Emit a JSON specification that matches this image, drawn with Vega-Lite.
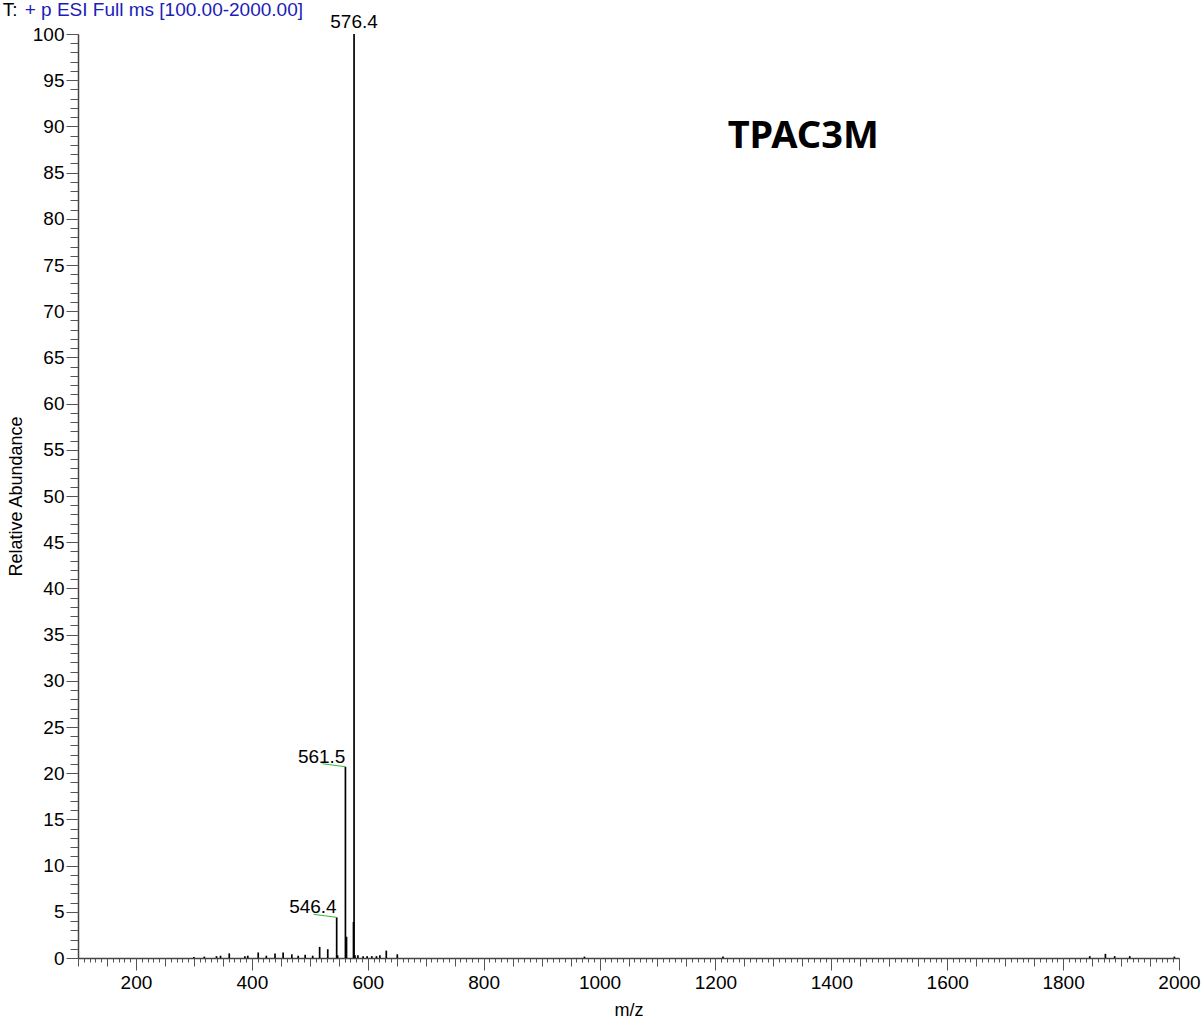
{
  "$schema": "https://vega.github.io/schema/vega-lite/v6.json",
  "width": 1101,
  "height": 924,
  "autosize": {"type": "none"},
  "padding": {"left": 78, "top": 34, "right": 25, "bottom": 63},
  "background": "white",
  "config": {
    "view": {"stroke": null},
    "font": "Liberation Sans",
    "axis": {"grid": false, "labelFont": "Liberation Sans", "titleFont": "Liberation Sans", "labelColor": "black", "titleColor": "black", "titleFontWeight": "normal", "labelFlush": false, "labelOverlap": false, "tickColor": "#555555", "domainColor": "#444444"}
  },
  "datasets": {
    "peaks": [
      {"mz": 300, "intensity": 0.1},
      {"mz": 318, "intensity": 0.15},
      {"mz": 339, "intensity": 0.2},
      {"mz": 346, "intensity": 0.25},
      {"mz": 361, "intensity": 0.5},
      {"mz": 388, "intensity": 0.2},
      {"mz": 393, "intensity": 0.25},
      {"mz": 411, "intensity": 0.6},
      {"mz": 425, "intensity": 0.25},
      {"mz": 440, "intensity": 0.5},
      {"mz": 454, "intensity": 0.6},
      {"mz": 469, "intensity": 0.4},
      {"mz": 480, "intensity": 0.25},
      {"mz": 492, "intensity": 0.35},
      {"mz": 505, "intensity": 0.25},
      {"mz": 517, "intensity": 1.2},
      {"mz": 531, "intensity": 0.95},
      {"mz": 546.4, "intensity": 4.4},
      {"mz": 548, "intensity": 0.3},
      {"mz": 561.5, "intensity": 20.7},
      {"mz": 563.4, "intensity": 2.3},
      {"mz": 575.4, "intensity": 3.9},
      {"mz": 576.4, "intensity": 100},
      {"mz": 578, "intensity": 0.3},
      {"mz": 583, "intensity": 0.3},
      {"mz": 592, "intensity": 0.2},
      {"mz": 599, "intensity": 0.2},
      {"mz": 607, "intensity": 0.2},
      {"mz": 615, "intensity": 0.2},
      {"mz": 621, "intensity": 0.3},
      {"mz": 632, "intensity": 0.8},
      {"mz": 651, "intensity": 0.4},
      {"mz": 974, "intensity": 0.15},
      {"mz": 1213, "intensity": 0.15},
      {"mz": 1846, "intensity": 0.2},
      {"mz": 1873, "intensity": 0.45},
      {"mz": 1889, "intensity": 0.2},
      {"mz": 1915, "intensity": 0.2},
      {"mz": 1992, "intensity": 0.15}
    ],
    "labels": [
      {"mz": 576.4, "intensity": 100, "label": "576.4", "side": "top"},
      {"mz": 561.5, "intensity": 20.7, "label": "561.5", "side": "left"},
      {"mz": 546.4, "intensity": 4.4, "label": "546.4", "side": "left"}
    ],
    "notes": [
      {"label": "TPAC3M"}
    ]
  },
  "layer": [
    {
      "data": {"name": "peaks"},
      "mark": {"type": "rule", "color": "black", "strokeWidth": 1.7},
      "encoding": {
        "x": {"field": "mz", "type": "quantitative", "scale": {"domain": [100, 2000], "nice": false, "zero": false},
          "axis": {"orient": "bottom", "tickCount": 190, "labels": false, "title": null, "tickSize": 4, "tickWidth": 1, "domainWidth": 1.5}},
        "y": {"field": "intensity", "type": "quantitative", "scale": {"domain": [0, 100], "nice": false},
          "axis": {"orient": "left", "tickCount": 100, "labels": false, "title": null, "tickSize": 8, "tickWidth": 1, "domainWidth": 1.5}},
        "y2": {"datum": 0}
      }
    },
    {
      "data": {"name": "labels"},
      "transform": [{"filter": "datum.side == 'top'"}],
      "mark": {"type": "text", "align": "center", "baseline": "alphabetic", "dy": -6, "fontSize": 19, "color": "black", "font": "Liberation Sans"},
      "encoding": {
        "x": {"field": "mz", "type": "quantitative",
          "axis": {"orient": "bottom", "tickCount": 38, "labels": false, "title": null, "tickSize": 8, "tickWidth": 1, "domain": false}},
        "y": {"field": "intensity", "type": "quantitative",
          "axis": {"orient": "left", "tickCount": 20, "format": "d", "labels": true, "labelFontSize": 19, "labelPadding": 2, "title": "Relative Abundance", "titleFontSize": 18, "titlePadding": 7, "tickSize": 12, "tickWidth": 1, "domain": false}},
        "text": {"field": "label"}
      }
    },
    {
      "data": {"name": "labels"},
      "transform": [{"filter": "datum.side == 'left'"}],
      "mark": {"type": "text", "align": "right", "baseline": "alphabetic", "dy": -4, "dx": 0, "fontSize": 19, "color": "black", "font": "Liberation Sans"},
      "encoding": {
        "x": {"field": "mz", "type": "quantitative",
          "axis": {"orient": "bottom", "tickCount": 10, "format": "d", "labels": true, "labelFontSize": 19, "labelPadding": 3, "title": "m/z", "titleFontSize": 18, "titlePadding": 9, "tickSize": 12, "tickWidth": 1, "domain": false}},
        "y": {"field": "intensity", "type": "quantitative", "axis": null},
        "text": {"field": "label"}
      }
    },
    {
      "data": {"name": "labels"},
      "transform": [{"filter": "datum.side == 'left'"}],
      "mark": {"type": "rule", "color": "#33bb33", "strokeWidth": 1, "x2Offset": -23, "y2Offset": -3},
      "encoding": {
        "x": {"field": "mz", "type": "quantitative", "axis": null},
        "x2": {"field": "mz"},
        "y": {"field": "intensity", "type": "quantitative", "axis": null},
        "y2": {"field": "intensity"}
      }
    },
    {
      "data": {"name": "notes"},
      "mark": {"type": "text", "font": "Noto Sans", "fontWeight": "bold", "fontSize": 38, "align": "center", "baseline": "alphabetic", "color": "black"},
      "encoding": {
        "x": {"datum": 1351.5, "type": "quantitative", "axis": null},
        "y": {"datum": 87.7, "type": "quantitative", "axis": null},
        "text": {"field": "label"}
      }
    },
    {
      "data": {"name": "notes"},
      "mark": {"type": "text", "text": "T:", "fontSize": 19, "align": "left", "baseline": "alphabetic", "color": "black", "font": "Liberation Sans"},
      "encoding": {
        "x": {"datum": -30, "type": "quantitative", "axis": null},
        "y": {"datum": 101.95, "type": "quantitative", "axis": null}
      }
    },
    {
      "data": {"name": "notes"},
      "mark": {"type": "text", "text": "+ p ESI Full ms [100.00-2000.00]", "fontSize": 19, "align": "left", "baseline": "alphabetic", "color": "#1c1cb8", "font": "Liberation Sans"},
      "encoding": {
        "x": {"datum": 8, "type": "quantitative", "axis": null},
        "y": {"datum": 101.95, "type": "quantitative", "axis": null}
      }
    }
  ],
  "resolve": {"axis": {"x": "independent", "y": "independent"}}
}
